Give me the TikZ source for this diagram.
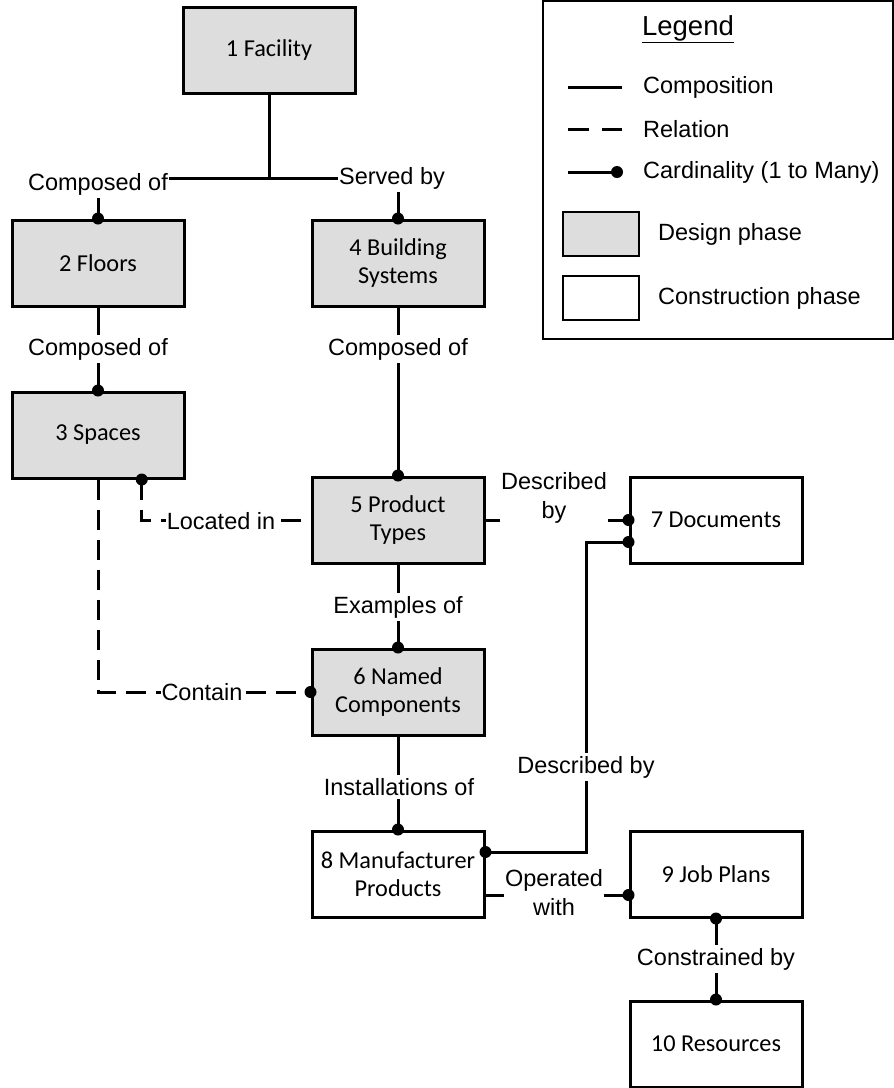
\documentclass[tikz,border=0pt]{standalone}
\usepackage{fontspec}
\setmainfont{Carlito}
\newfontfamily\arialf{Liberation Sans}
\usetikzlibrary{calc}
\definecolor{dgray}{RGB}{221,221,221}
\begin{document}
\begin{tikzpicture}[x=1pt,y=-1pt,
  box/.style={draw, line width=3pt, minimum width=172pt, minimum height=86pt, align=center, font=\fontsize{24.3}{28.5}\selectfont, inner sep=2pt},
  design/.style={box, fill=dgray},
  constr/.style={box, fill=white},
  conn/.style={line width=3pt},
  rel/.style={line width=3pt, dash pattern=on 20pt off 10pt},
  lbl/.style={fill=white, font=\arialf\fontsize{23.5}{29}\selectfont, inner xsep=1pt, inner ysep=3pt, align=center},
  leg/.style={font=\arialf\fontsize{23.5}{28}\selectfont, anchor=west, inner sep=0pt},
  dot/.style={fill=black}
]
\useasboundingbox (0,0) rectangle (894,1088);

% boxes
\node[design] (b1) at (269,50) {1 Facility};
\node[design] (b2) at (98,263) {2 Floors};
\node[design] (b4) at (398,263) {4 Building\\Systems};
\node[design] (b3) at (98,435) {3 Spaces};
\node[design] (b5) at (398,520) {5 Product\\Types};
\node[design] (b6) at (398,692) {6 Named\\Components};
\node[constr] (b7) at (716,520) {7 Documents};
\node[constr] (b8) at (398,874) {8 Manufacturer\\Products};
\node[constr] (b9) at (716,874) {9 Job Plans};
\node[constr] (b10) at (716,1044) {10 Resources};

% helper coordinates
\coordinate (j1) at (269,178);
\coordinate (s3) at ($(b3.south)!0.5!(b3.south east)$);
\coordinate (d8) at ($(b8.east)+(0,-22)$);
\coordinate (d7) at ($(b7.west)+(0,22)$);
\coordinate (bend) at (586,0);
\coordinate (o8) at ($(b8.east)+(0,21)$);
\coordinate (o9) at ($(b9.west)+(0,21)$);

% connectors
\draw[conn] (b1.south) -- (j1);
\draw[conn] (j1) -| (b2.north);
\draw[conn] (j1) -| (b4.north);
\draw[conn] (b2.south) -- (b3.north);
\draw[conn] (b4.south) -- (b5.north);
\draw[conn] (b5.south) -- (b6.north);
\draw[conn] (b6.south) -- (b8.north);
\draw[conn] (b5.east) -- (b7.west);
\draw[conn] (d8) -| (bend |- d7) -- (d7);
\draw[conn] (o8) -- (o9);
\draw[conn] (b9.south) -- (b10.north);
\draw[rel] (s3) |- (b5.west);
\draw[rel] (b3.south) |- (b6.west);

% labels
\node[lbl] (l1) at (98,184) {Composed of};
\node[lbl] (l2) at (392,178) {Served by};
\node[lbl] (l3) at (98,349) {Composed of};
\node[lbl] (l4) at (398,349) {Composed of};
\node[lbl] (l5) at (221,521) {Located in};
\node[lbl] (l6) at (554,498) {Described\\by};
\node[lbl] (l7) at (398,607) {Examples of};
\node[lbl] (l8) at (202,692) {Contain};
\node[lbl] (l9) at (586,767) {Described by};
\node[lbl] (l10) at (399,787) {Installations of};
\node[lbl] (l11) at (554,893) {Operated\\with};
\node[lbl] (l12) at (716,959) {Constrained by};

% cardinality dots
\foreach \p in {b2.north,b4.north,b3.north,s3,b5.north,b7.west,d7,b6.north,b6.west,b8.north,d8,o9,b9.south,b10.north}
  \fill[dot] (\p) circle (6pt);

% legend
\node[draw, line width=1.2pt, minimum width=350pt, minimum height=338pt, inner sep=0pt] (legend) at (718,170) {};
\node[leg, anchor=center, font=\arialf\fontsize{27.5}{32}\selectfont] (lt) at (688,29) {\underline{Legend}};
\coordinate (c1a) at (568,87); \coordinate (c1b) at (622,87);
\draw[conn] (c1a) -- (c1b);
\node[leg] (t1) at (643,87) {Composition};
\coordinate (c2a) at (568,129); \coordinate (c2b) at (622,129);
\draw[line width=3pt, dash pattern=on 21pt off 13pt] (c2a) -- (c2b);
\node[leg] (t2) at (643,129) {Relation};
\coordinate (c3a) at (568,172); \coordinate (c3b) at (617,172);
\draw[conn] (c3a) -- (c3b);
\fill[dot] (c3b) circle (6pt);
\node[leg] (t3) at (643,172) {Cardinality (1 to Many)};
\node[draw, line width=2.2pt, fill=dgray, minimum width=76pt, minimum height=44pt, inner sep=0pt] (ld) at (601,234) {};
\node[leg] (t4) at (658,234) {Design phase};
\node[draw, line width=2.2pt, fill=white, minimum width=76pt, minimum height=44pt, inner sep=0pt] (lc) at (601,298) {};
\node[leg] (t5) at (658,298) {Construction phase};
\end{tikzpicture}
\end{document}
